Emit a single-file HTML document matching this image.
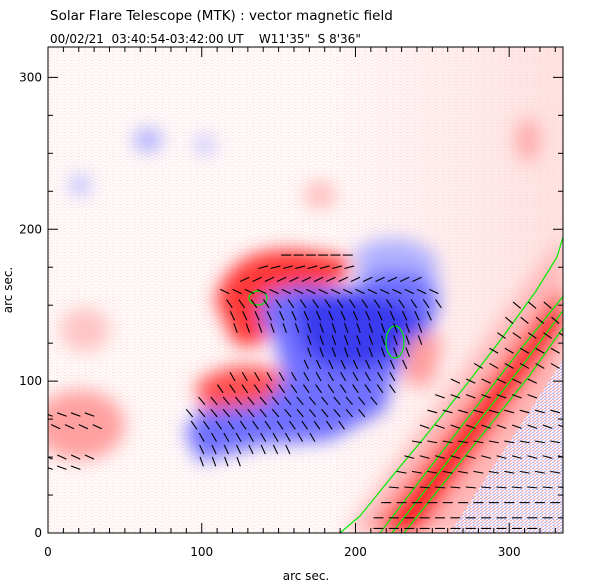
<!DOCTYPE html>
<html><head><meta charset="utf-8"><style>
body{margin:0;background:#fff;width:612px;height:585px;overflow:hidden;font-family:"DejaVu Sans","Liberation Sans",sans-serif}
svg{display:block}
text{font-family:"DejaVu Sans","Liberation Sans",sans-serif;fill:#000;white-space:pre}
</style></head><body>
<svg id="chart" width="612" height="585" viewBox="0 0 612 585">
<defs>
<filter id="blur8" x="-30%" y="-30%" width="160%" height="160%"><feGaussianBlur stdDeviation="9"/></filter>
<linearGradient id="bgGrad" x1="0" y1="0" x2="1" y2="0">
<stop offset="0" stop-color="#fffafa"/><stop offset="0.55" stop-color="#fffafa"/><stop offset="1" stop-color="#ffe2e2"/>
</linearGradient>
<pattern id="speck" width="7" height="3" patternUnits="userSpaceOnUse">
<rect x="0" y="0" width="3" height="1" fill="#ffc4c4"/><rect x="4" y="2" width="2" height="1" fill="#ffd4d4"/>
</pattern>
<pattern id="speckB" width="4" height="3" patternUnits="userSpaceOnUse">
<rect width="4" height="3" fill="#fff"/><rect x="0" y="0" width="2" height="1" fill="#b0b0ff"/><rect x="2" y="1" width="2" height="1" fill="#ffa8a8"/><rect x="1" y="2" width="2" height="1" fill="#c0c0ff"/>
</pattern>
<clipPath id="plotclip"><rect x="48" y="47" width="515" height="486"/></clipPath>
</defs>
<text x="50" y="20" font-size="13.5">Solar Flare Telescope (MTK) : vector magnetic field</text>
<text x="50" y="43" font-size="12">00/02/21  03:40:54-03:42:00 UT    W11'35"  S 8'36"</text>
<g clip-path="url(#plotclip)">
<rect x="48" y="47" width="515" height="486" fill="url(#bgGrad)"/>
<rect x="48" y="47" width="515" height="486" fill="url(#speck)" opacity="0.35"/>
<g filter="url(#blur8)">
<ellipse cx="80" cy="425" rx="45" ry="35" fill="#ffa0a0"/>
<ellipse cx="85" cy="330" rx="25" ry="22" fill="#ffc4c4"/>
<ellipse cx="320" cy="195" rx="16" ry="14" fill="#ffbcbc"/>
<ellipse cx="148" cy="140" rx="14" ry="11" fill="#a8a8ff"/>
<ellipse cx="205" cy="145" rx="8" ry="9" fill="#b4b4ff"/>
<ellipse cx="80" cy="185" rx="10" ry="10" fill="#b8b8ff"/>
<ellipse cx="528" cy="140" rx="12" ry="22" fill="#ffa8a8"/>
<path d="M215,300 Q230,245 300,250 L350,258 L345,280 L300,292 L272,318 L262,345 L235,345 Z" fill="#ff3838"/>
<path d="M195,385 Q230,355 280,372 L285,400 L258,418 L205,412 Z" fill="#ff5050"/>
<path d="M355,250 Q400,225 435,255 L440,295 L390,300 L360,290 Z" fill="#b0b0ff"/>
<path d="M265,295 L300,285 L350,290 L380,270 L420,272 L440,300 L430,330 L405,360 L392,380 L385,410 L330,440 L260,445 L200,462 L185,432 L200,410 L260,405 L285,380 L275,340 L260,320 Z" fill="#7070ff"/>
<path d="M295,300 L350,292 L400,300 L425,320 L400,355 L360,370 L320,365 L300,340 Z" fill="#3a3af0"/>
<path d="M405,345 Q430,325 442,340 L432,385 L405,385 Z" fill="#ff9c9c"/>
<path d="M345,533 L470,533 L563,390 L563,235 Z" fill="#ffb8b8"/>
<path d="M372,533 L420,533 L563,330 L563,285 Z" fill="#ff2828"/>
</g>
<path d="M450,533 L563,533 L563,360 Z" fill="url(#speckB)" opacity="0.8"/>
<g fill="none" stroke="#00ee00" stroke-width="1.2">
<path d="M340,533 L360,516 L394,474 L428,433 L470,380 L502,338 L536,291 L557,257 L563,237"/>
<path d="M380,533 L470,415 L520,350 L565,294"/>
<path d="M392,533 L480,420 L525,362 L565,308"/>
<path d="M404,533 L490,425 L530,375 L565,325"/>
<ellipse cx="258" cy="298" rx="9" ry="7"/>
<ellipse cx="395" cy="342" rx="9" ry="16"/>
</g>
<g id="arrows" stroke="#000" stroke-width="1.1"></g>
</g>
<rect x="48" y="47" width="515" height="486" fill="none" stroke="#000" stroke-width="1"/>
<g id="axes" font-size="12"></g>
<text x="306" y="580" font-size="12" text-anchor="middle">arc sec.</text>
<text x="0" y="0" font-size="12" text-anchor="middle" transform="translate(12,290) rotate(-90)">arc sec.</text>
</svg>
<script>
// axis data
const xTicks=[0,100,200,300];
const yTicks=[0,100,200,300];
const xMax=335, yMax=320;
// vector rows: [y, xStart, xEnd, angleDeg]
const rowY=[183,175,167,159,151,143,135,127,119,111,103,95,87,79,71,63,55,47];
const rowX0=[155,140,128,115,118,120,122,170,170,168,120,112,100,92,95,100,100,100];
const rowX1=[195,200,245,255,255,250,245,245,240,235,230,225,215,205,195,175,160,130];
const rowAng=[0,15,25,-25,-55,-65,-70,-70,-70,-65,-60,-55,-50,-50,-55,-60,-65,-70];
// strip rows
const sY=[150,140,130,120,110,100,90,80,70,60,50,40,30,20,10,3];
const sX0=[305,300,295,290,280,265,255,250,245,240,235,230,225,220,215,215];
const sX1=[330,335,335,335,335,320,320,330,335,335,335,335,335,335,335,320];
const sAng=[-40,-40,-35,-30,-30,-25,-20,-15,-20,-10,-15,-10,-5,0,0,0];
// left group
const lY=[78,70,50,43];
const lX0=[0,5,0,0];
const lX1=[30,35,35,25];
const lAng=[-20,-25,-25,-20];
const L=48,T=47,W=515,H=486;
const sx=v=>L+v*(W/xMax), sy=v=>T+H-v*(H/yMax);
const NS='http://www.w3.org/2000/svg';
const ag=document.getElementById('arrows');
function drawRows(Y,X0,X1,A,step){
  for(let i=0;i<Y.length;i++){
    for(let x=X0[i];x<=X1[i];x+=step){
      const px=sx(x),py=sy(Y[i]);const a=A[i]*Math.PI/180;
      const dx=5*Math.cos(a),dy=-5*Math.sin(a);
      const ln=document.createElementNS(NS,'line');
      
      
      ln.setAttribute('x1',px-dx);ln.setAttribute('y1',py-dy);
      ln.setAttribute('x2',px+dx);ln.setAttribute('y2',py+dy);
      ag.appendChild(ln);
    }
  }
}
drawRows(rowY,rowX0,rowX1,rowAng,8);
drawRows(sY,sX0,sX1,sAng,10);
drawRows(lY,lX0,lX1,lAng,9);
const ax=document.getElementById('axes');
function mk(tag,attrs){const e=document.createElementNS(NS,tag);for(const k in attrs)e.setAttribute(k,attrs[k]);return e;}
for(let v=0;v<=xMax;v+=10){const p=sx(v);const big=v%100===0;
  const t1=mk('line',{x1:p,x2:p,y1:T+H,y2:T+H-(big?10:5),stroke:'#000'});ax.appendChild(t1);
  const t2=mk('line',{x1:p,x2:p,y1:T,y2:T+(big?10:5),stroke:'#000'});ax.appendChild(t2);}
for(let v=0;v<=yMax;v+=25){const p=sy(v);const big=v%100===0;
  const t1=mk('line',{y1:p,y2:p,x1:L,x2:L+(big?10:5),stroke:'#000'});ax.appendChild(t1);
  const t2=mk('line',{y1:p,y2:p,x1:L+W,x2:L+W-(big?10:5),stroke:'#000'});ax.appendChild(t2);}
xTicks.forEach(v=>{const t=mk('text',{x:sx(v),y:556,'text-anchor':'middle'});t.textContent=v;ax.appendChild(t);});
yTicks.forEach(v=>{const t=mk('text',{x:L-6,y:sy(v)+4,'text-anchor':'end'});t.textContent=v;ax.appendChild(t);});
</script>
</body></html>
